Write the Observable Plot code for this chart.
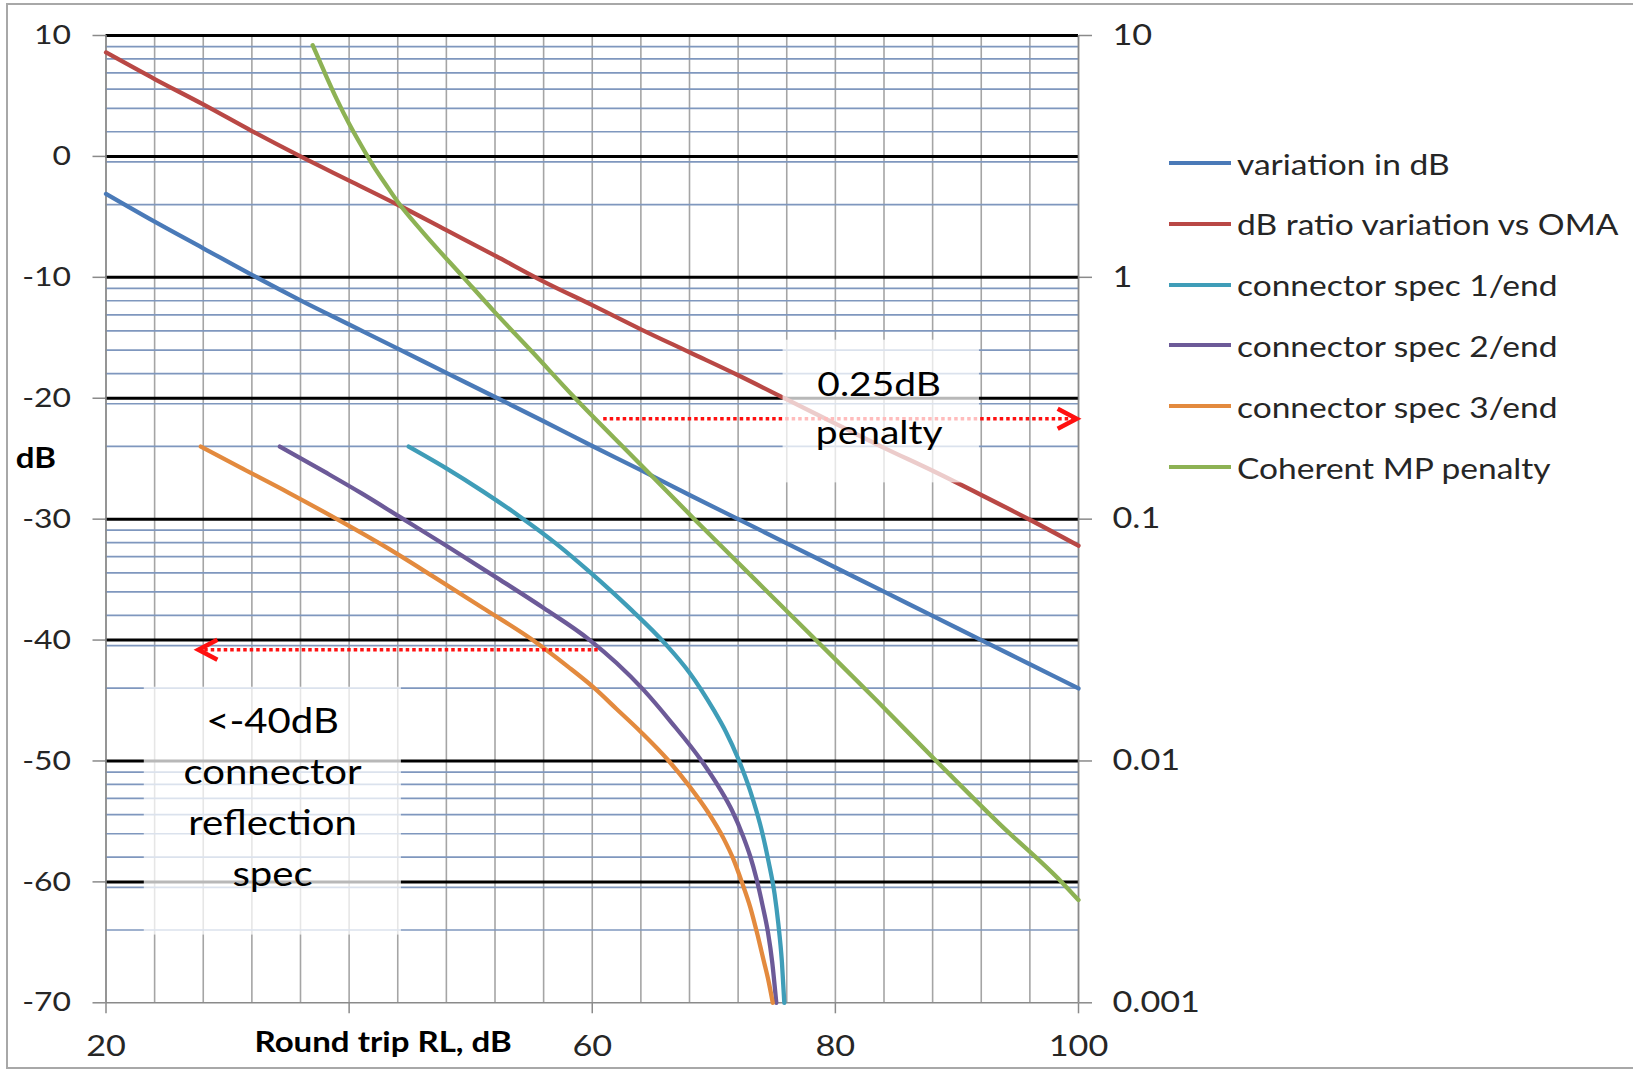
<!DOCTYPE html>
<html>
<head>
<meta charset="utf-8">
<script src="https://cdn.jsdelivr.net/npm/d3@7"></script>
<script src="https://cdn.jsdelivr.net/npm/@observablehq/plot@0.6"></script>
<style>
  html, body { margin: 0; padding: 0; background: #fff; }
  #wrap { position: relative; width: 1633px; height: 1071px; overflow: hidden; background: #fff; }
  #border { position: absolute; left: 6px; top: 3px; width: 1700px; height: 1066px; border: 2px solid #a8a8a8; box-sizing: border-box; pointer-events: none; }
  #chart { position: absolute; left: 0; top: 0; }
  #legend { position: absolute; left: 0; top: 0; font-family: Lato, sans-serif; font-size: 29px; color: #262626; }
  .item { position: absolute; left: 1169px; height: 40px; display: flex; align-items: center; white-space: nowrap; }
  .sw { width: 62px; height: 4px; margin-right: 6px; flex: none; }
  .lbl { display: inline-block; transform: scaleX(1.155); transform-origin: left center; }
</style>
</head>
<body>
<div id="wrap">
  <div id="chart"></div>
  <div id="legend"></div>
  <div id="border"></div>
</div>
<script>
// ---------------- data ----------------
const seriesNames = [
  "variation in dB",
  "dB ratio variation vs OMA",
  "connector spec 1/end",
  "connector spec 2/end",
  "connector spec 3/end",
  "Coherent MP penalty"
];
const seriesColors = ["#4a7ab8", "#b94845", "#3f9db8", "#6c5a98", "#e38a3e", "#8db254"];

// [round trip RL (dB), value on left dB axis]
const variationInDB = [
  [20,-3.1],[24,-5.4],[28,-7.6],[32,-9.8],[36,-11.9],[40,-13.9],[44,-15.9],[48,-17.9],
  [52,-19.9],[56,-21.9],[60,-23.95],[64,-25.95],[68,-28.0],[72,-30.0],[76,-32.0],
  [80,-34.0],[84,-36.0],[88,-38.0],[92,-40.0],[96,-42.0],[100,-44.0]
];
const dbRatioVsOMA = [
  [20,8.6],[24,6.4],[28,4.3],[32,2.1],[36,0.0],[40,-2.0],[44,-4.0],[48,-6.1],[52,-8.2],
  [56,-10.35],[60,-12.3],[64,-14.3],[68,-16.2],[72,-18.1],[76,-20.1],[80,-22.1],
  [84,-24.1],[88,-26.0],[92,-28.0],[96,-30.05],[100,-32.2]
];
const connectorSpec1 = [
  [44.9,-24.0],[48,-25.8],[51,-27.7],[54,-29.75],[57,-32.0],[60,-34.55],[63,-37.3],
  [66,-40.3],[68,-42.7],[70,-45.8],[71,-47.6],[72,-49.8],[73,-52.5],[74,-56.0],
  [74.5,-58.3],[75,-61.0],[75.3,-63.4],[75.6,-66.6],[75.8,-70.0]
];
const connectorSpec2 = [
  [34.3,-24.0],[38,-26.1],[41,-27.85],[44.3,-29.9],[48,-32.2],[52,-34.75],[56,-37.35],
  [59.8,-40.0],[62,-41.9],[64.2,-44.1],[66.5,-46.8],[69,-50.0],[70.5,-52.3],[71.5,-54.1],
  [72.4,-56.2],[73,-57.9],[73.5,-59.7],[74,-61.9],[74.46,-64.2],[74.8,-66.6],[75.14,-70.0]
];
const connectorSpec3 = [
  [27.8,-24.0],[31,-25.7],[35,-27.8],[39,-30.0],[43,-32.3],[47,-34.8],[51,-37.35],
  [55.1,-40.0],[58,-42.2],[60.2,-44.0],[62,-45.7],[64,-47.6],[66.3,-50.0],[68,-52.1],
  [69.5,-54.2],[70.8,-56.4],[71.6,-58.1],[72.3,-60.0],[73,-62.1],[73.6,-64.4],
  [74.1,-66.5],[74.5,-68.2],[74.85,-70.0]
];
const coherentMP = [
  [37.0,9.2],[38,6.9],[39,4.7],[40,2.7],[41,0.9],[42,-0.8],[43,-2.3],[44.1,-3.9],[46,-6.2],
  [49.4,-10.0],[52,-12.9],[55,-16.1],[58.5,-19.9],[63.5,-25.0],[68.4,-30.0],[73.4,-35.0],
  [78.4,-40.0],[83.4,-45.0],[88.3,-50.0],[93.5,-55.2],[98.6,-60.0],[100,-61.5]
];
const allSeries = [variationInDB, dbRatioVsOMA, connectorSpec1, connectorSpec2, connectorSpec3, coherentMP];

// axes / ticks
const xTicks = [20, 40, 60, 80, 100];
const xTickLabels = ["20", "", "60", "80", "100"];
const xGridStep = 4;
const leftTicks = [10, 0, -10, -20, -30, -40, -50, -60, -70];
const majorGrid = [10, 0, -10, -20, -30, -40, -50, -60];
const rightTicks = [10, 1, 0.1, 0.01, 0.001];
const rightTickLabels = ["10", "1", "0.1", "0.01", "0.001"];
const rightMinorMultipliers = [2, 3, 4, 5, 6, 7, 8, 9];
const rightDecades = [0.001, 0.01, 0.1, 1];

// annotations
const penaltyBox = [{x1: 75.7, x2: 91.85, y1: -15.2, y2: -27.0}];
const specBox = [{x1: 23.15, x2: 44.3, y1: -43.9, y2: -64.4}];
const annotationText = [
  {x: 83.6, y: -18.9, text: "0.25dB", size: 33},
  {x: 83.6, y: -22.9, text: "penalty", size: 33},
  {x: 33.7, y: -46.8, text: "<-40dB", size: 34},
  {x: 33.7, y: -51.0, text: "connector", size: 34},
  {x: 33.7, y: -55.25, text: "reflection", size: 34},
  {x: 33.7, y: -59.45, text: "spec", size: 34}
];
const arrows = [
  {from: 60.9, to: 99.85, y: -21.7},
  {from: 60.45, to: 27.6, y: -40.8}
];

// ---------------- chart ----------------
const toLeftDB = v => -10 + 20 * Math.log10(v);   // right (log) axis -> left dB axis
const minorGrid = rightDecades.flatMap(d => rightMinorMultipliers.map(m => toLeftDB(d * m)));
const xGrid = d3.range(xTicks[0], xTicks[xTicks.length - 1] + 0.01, xGridStep);
const rightTickPos = rightTicks.map(toLeftDB);

const lineMarks = allSeries.map((s, i) =>
  Plot.line(s, {x: d => d[0], y: d => d[1], stroke: seriesColors[i], strokeWidth: 4.3, curve: "monotone-x"})
);

const arrowColor = "#ff1010";
const chevron = {
  draw(context, l) {
    const h = l * 0.53;
    context.moveTo(-h, l);
    context.lineTo(0, 0);
    context.lineTo(h, l);
  }
};

const chart = Plot.plot({
  width: 1633,
  height: 1071,
  marginLeft: 105.5,
  marginRight: 555,
  marginTop: 35,
  marginBottom: 68.7,
  style: {fontFamily: "Lato, sans-serif", background: "transparent", color: "#262626"},
  x: {domain: [20, 100]},
  y: {domain: [-70, 10]},
  marks: [
    Plot.ruleX(xGrid, {stroke: "#a5a5a5", strokeWidth: 1.6}),
    Plot.ruleY(minorGrid, {stroke: "#7f97be", strokeWidth: 1.7}),
    Plot.ruleY(majorGrid, {stroke: "#000", strokeWidth: 3}),
    Plot.ruleX([20, 100], {stroke: "#8a8a8a", strokeWidth: 1.5}),
    Plot.ruleY([-70], {stroke: "#8a8a8a", strokeWidth: 1.5}),
    Plot.axisY({anchor: "left", ticks: leftTicks, tickSize: 13, tickPadding: 22, fontSize: 27,
      stroke: "#8a8a8a", strokeWidth: 1.5, fill: "#262626", tickFormat: d => String(d), label: null}),
    Plot.axisY({anchor: "right", ticks: rightTickPos, tickSize: 13, tickPadding: 21, fontSize: 29,
      stroke: "#8a8a8a", strokeWidth: 1.5, fill: "#262626", label: null,
      tickFormat: d => rightTickLabels[rightTickPos.findIndex(p => Math.abs(p - d) < 1e-6)]}),
    Plot.axisX({ticks: xTicks, tickSize: 11, tickPadding: 22, fontSize: 29,
      stroke: "#8a8a8a", strokeWidth: 1.5, fill: "#262626", label: null,
      tickFormat: d => xTickLabels[xTicks.indexOf(d)]}),
    ...lineMarks,
    Plot.link(arrows, {x1: "from", x2: "to", y1: "y", y2: "y",
      stroke: arrowColor, strokeWidth: 3.5, strokeDasharray: "3.5,3"}),
    Plot.vector(arrows, {x: "to", y: "y", rotate: d => (d.to > d.from ? 90 : -90), length: 19,
      anchor: "start", shape: chevron, stroke: arrowColor, strokeWidth: 4.5,
      strokeLinejoin: "miter", strokeLinecap: "butt"}),
    Plot.rect(penaltyBox, {x1: "x1", x2: "x2", y1: "y1", y2: "y2", fill: "white", fillOpacity: 0.72}),
    Plot.rect(specBox, {x1: "x1", x2: "x2", y1: "y1", y2: "y2", fill: "white", fillOpacity: 0.72}),
    Plot.text(annotationText, {x: "x", y: "y", text: "text", fontSize: d => d.size, fill: "#000",
      textAnchor: "middle", lineAnchor: "middle"}),
    Plot.text(["Round trip RL, dB"], {x: 42.8, y: -70, dy: 29.5, lineAnchor: "top", textAnchor: "middle",
      fontSize: 28, fontWeight: "bold", fill: "#000"}),
    Plot.text(["dB"], {frameAnchor: "left", y: -25, dx: -70, textAnchor: "middle", lineAnchor: "middle",
      fontSize: 28, fontWeight: "bold", fill: "#000"})
  ]
});

// widen glyphs horizontally like the reference rendering
chart.querySelectorAll("text").forEach(t => {
  const tr = t.getAttribute("transform");
  if (tr) t.setAttribute("transform", tr + " scale(1.18,1)");
  else {
    const x = +t.getAttribute("x") || 0;
    t.setAttribute("transform", `translate(${x},0) scale(1.18,1) translate(${-x},0)`);
  }
});
document.getElementById("chart").appendChild(chart);

// legend
const legend = document.getElementById("legend");
seriesNames.forEach((name, i) => {
  const item = document.createElement("div");
  item.className = "item";
  item.style.top = (163 + i * 60.8 - 20) + "px";
  const sw = document.createElement("span");
  sw.className = "sw";
  sw.style.background = seriesColors[i];
  const lbl = document.createElement("span");
  lbl.className = "lbl";
  lbl.textContent = name;
  item.appendChild(sw);
  item.appendChild(lbl);
  legend.appendChild(item);
});
</script>
</body>
</html>
